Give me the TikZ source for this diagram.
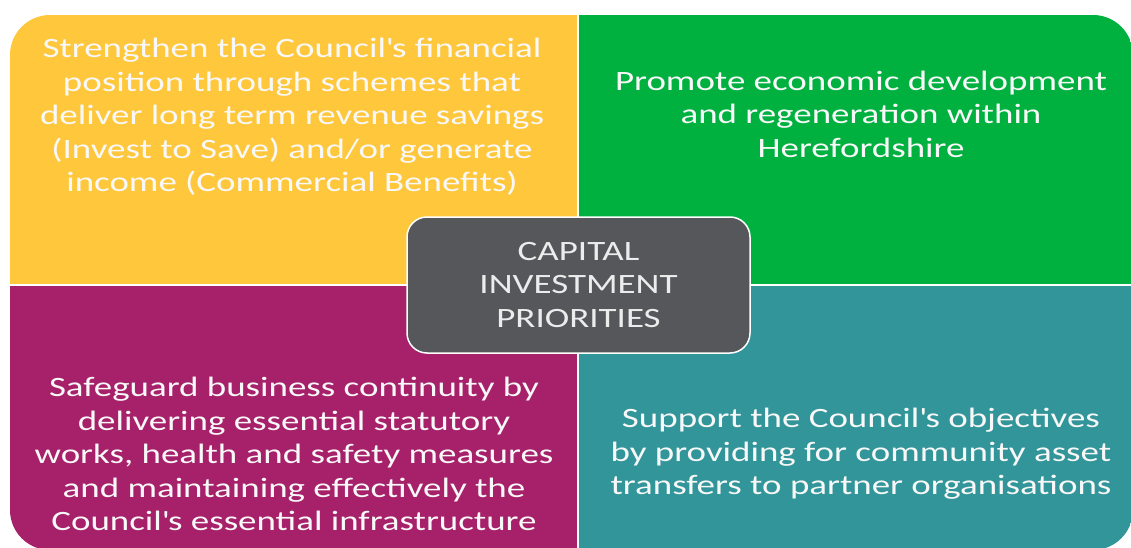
\documentclass[tikz,border=0pt]{standalone}
\usepackage{fontspec}
\setmainfont{Carlito}[FakeStretch=1.32]
\usepackage{xcolor}
\usepackage{tikz}
\definecolor{quadyellow}{RGB}{255,200,60}
\definecolor{quadgreen}{RGB}{0,177,64}
\definecolor{quadmagenta}{RGB}{166,32,106}
\definecolor{quadteal}{RGB}{49,149,154}
\definecolor{centregrey}{RGB}{86,87,91}
\definecolor{textwhite}{RGB}{248,248,248}
\newcommand{\apos}{\textquotesingle}

\begin{document}
\begin{tikzpicture}[x=1pt, y=-1pt,
        quad/.style={rectangle, inner sep=0pt, anchor=north west},
        quadtext/.style={align=center, inner sep=0pt, text=textwhite,
                        font=\fontsize{28}{33.5}\selectfont},
        centrebox/.style={rectangle, rounded corners=20pt, draw=white, line width=1.5pt,
                         fill=centregrey, minimum width=343pt, minimum height=136pt,
                         align=center, text=textwhite!95!black, font=\fontsize{28}{33.5}\selectfont}
    ]
        \useasboundingbox (0,0) rectangle (1131,548);

        % Four quadrants inside one rounded outline
        \begin{scope}
            \clip[rounded corners=40pt] (10,15) rectangle (1133,550);
            \node[quad, fill=quadyellow, minimum width=567pt, minimum height=269pt] (finance) at (10,15) {};
            \node[quad, fill=quadgreen, minimum width=554pt, minimum height=269pt] (economy) at (579,15) {};
            \node[quad, fill=quadmagenta, minimum width=567pt, minimum height=264pt] (continuity) at (10,286) {};
            \node[quad, fill=quadteal, minimum width=554pt, minimum height=264pt] (community) at (579,286) {};
        \end{scope}

        % Quadrant texts
        \node[quadtext] (financetext) at (292,117) {Strengthen the Council\apos s financial\\position through schemes that\\deliver long term revenue savings\\(Invest to Save) and/or generate\\income (Commercial Benefits)};
        \node[quadtext] (economytext) at (861,114) {Promote economic development\\and regeneration within\\Herefordshire};
        \node[quadtext] (continuitytext) at (294,454) {Safeguard business continuity by\\delivering essential statutory\\works, health and safety measures\\and maintaining effectively the\\Council\apos s essential infrastructure};
        \node[quadtext] (communitytext) at (861,454) {Support the Council\apos s objectives\\by providing for community asset\\transfers to partner organisations};

        % Centre box
        \node[centrebox] (priorities) at (578.5,285) {CAPITAL\\INVESTMENT\\PRIORITIES};

    \end{tikzpicture}
\end{document}
